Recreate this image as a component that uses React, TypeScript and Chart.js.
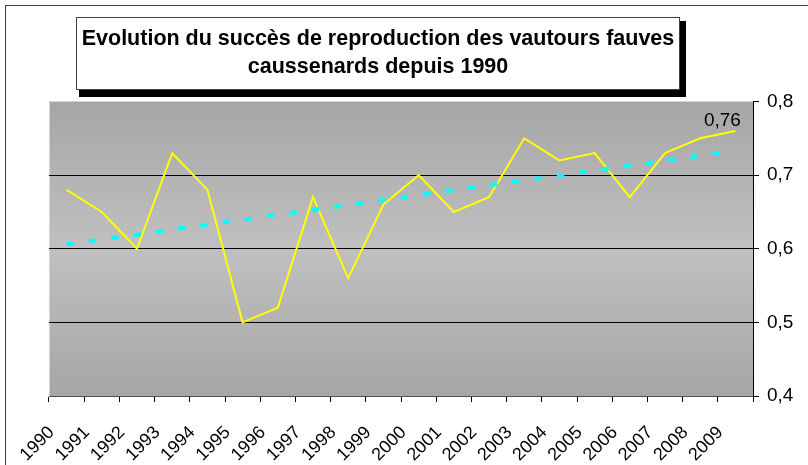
import React, { useEffect, useRef } from 'react';
import { Chart, registerables } from 'chart.js';

Chart.register(...registerables);

const years = ['1990', '1991', '1992', '1993', '1994', '1995', '1996', '1997', '1998', '1999', '2000', '2001', '2002', '2003', '2004', '2005', '2006', '2007', '2008', '2009'];
const successRate = [0.68, 0.65, 0.6, 0.73, 0.68, 0.5, 0.52, 0.67, 0.56, 0.66, 0.7, 0.65, 0.67, 0.75, 0.72, 0.73, 0.67, 0.73, 0.75, 0.76];
const trendStart = 0.606;
const trendEnd = 0.733;
const titleLines = ['Evolution du succès de reproduction des vautours fauves', 'caussenards depuis 1990'];
const yMin = 0.4;
const yMax = 0.8;
const yStep = 0.1;
const lastPointLabel = '0,76';

const FONT = '"Liberation Sans", Arial, sans-serif';

const decorPlugin = {
  id: 'decor',
  beforeDraw(chart: any) {
    const { ctx, chartArea: a, width, height } = chart;
    ctx.save();
    ctx.fillStyle = '#ffffff';
    ctx.fillRect(0, 0, width, height);
    const g = ctx.createLinearGradient(0, a.top, 0, a.bottom);
    g.addColorStop(0, '#a6a6a6');
    g.addColorStop(0.5, '#c0c0c0');
    g.addColorStop(1, '#a6a6a6');
    ctx.fillStyle = g;
    ctx.fillRect(a.left, a.top - 0.5, a.right - a.left, a.bottom - a.top + 0.5);
    ctx.strokeStyle = '#d4d4d4';
    ctx.lineWidth = 1;
    ctx.beginPath();
    ctx.moveTo(a.left + 0.5, a.bottom);
    ctx.lineTo(a.left + 0.5, a.top);
    ctx.lineTo(a.right, a.top);
    ctx.stroke();
    ctx.restore();
  },
  afterDatasetsDraw(chart: any) {
    const { ctx } = chart;
    const meta = chart.getDatasetMeta(1);
    const pt = meta.data[meta.data.length - 1];
    if (!pt) return;
    ctx.save();
    ctx.fillStyle = '#000';
    ctx.font = `19px ${FONT}`;
    ctx.textAlign = 'center';
    ctx.textBaseline = 'alphabetic';
    ctx.fillText(lastPointLabel, pt.x - 13, pt.y - 4.5);
    ctx.restore();
  },
  afterDraw(chart: any) {
    const { ctx } = chart;
    ctx.save();
    // outer frame
    ctx.strokeStyle = '#404040';
    ctx.lineWidth = 1;
    ctx.strokeRect(5.5, 5.5, 1000, 1000);
    // title box shadow
    ctx.fillStyle = '#000';
    ctx.fillRect(79, 21, 607, 76);
    // title box
    ctx.fillStyle = '#fff';
    ctx.fillRect(76, 17, 604, 73);
    ctx.strokeStyle = '#404040';
    ctx.strokeRect(76.5, 17.5, 603, 72);
    ctx.fillStyle = '#000';
    ctx.font = `bold 21.5px ${FONT}`;
    ctx.textAlign = 'center';
    ctx.textBaseline = 'alphabetic';
    ctx.fillText(titleLines[0], 378, 44.5);
    ctx.fillText(titleLines[1], 378, 73);
    ctx.restore();
  },
};

export default function App() {
  const ref = useRef<HTMLCanvasElement | null>(null);

  useEffect(() => {
    if (!ref.current) return;
    const trendData = years.map((_, i) => (i === 0 ? trendStart : i === years.length - 1 ? trendEnd : null));
    const chart = new Chart(ref.current, {
      type: 'line',
      data: {
        labels: years,
        datasets: [
          {
            label: 'Tendance',
            data: trendData,
            spanGaps: true,
            borderColor: '#00ffff',
            borderWidth: 4,
            borderDash: [7.5, 15],
            borderCapStyle: 'butt',
            pointRadius: 0,
            fill: false,
            tension: 0,
          },
          {
            label: 'Succès de reproduction',
            data: successRate,
            borderColor: '#ffff00',
            borderWidth: 2,
            pointRadius: 0,
            fill: false,
            tension: 0,
          },
        ],
      },
      options: {
        animation: false,
        responsive: false,
        maintainAspectRatio: false,
        devicePixelRatio: 1,
        layout: { padding: { left: 49, top: 101.5, right: 0, bottom: 0 } },
        plugins: {
          legend: { display: false },
          title: { display: false },
          tooltip: { enabled: false },
        },
        scales: {
          x: {
            offset: true,
            grid: {
              offset: true,
              drawOnChartArea: false,
              drawTicks: true,
              tickLength: 6,
              tickColor: '#000',
              color: '#000',
            },
            border: { display: true, color: '#505050', width: 1 },
            ticks: {
              autoSkip: false,
              maxRotation: 45,
              minRotation: 45,
              labelOffset: -15,
              padding: 20,
              color: '#000',
              font: { family: FONT, size: 18 },
            },
            afterFit(scale: any) {
              scale.height = 69;
              scale.paddingLeft = 0;
              scale.paddingRight = 0;
            },
          },
          y: {
            position: 'right',
            min: yMin,
            max: yMax,
            grid: {
              color: (ctx: any) => {
                const v = ctx.tick ? ctx.tick.value : 0;
                return v > yMin + 0.01 && v < yMax - 0.01 ? '#000' : 'rgba(0,0,0,0)';
              },
              tickColor: '#000',
              tickLength: 6,
              lineWidth: 1,
            },
            border: { display: true, color: '#000', width: 1 },
            ticks: {
              stepSize: yStep,
              padding: 8,
              color: '#000',
              font: { family: FONT, size: 19 },
              callback: (v: any) => Number(v).toFixed(1).replace('.', ','),
            },
            afterFit(scale: any) {
              scale.width = 55;
              scale.paddingTop = 0;
              scale.paddingBottom = 0;
            },
          },
        },
      },
      plugins: [decorPlugin],
    } as any);
    return () => chart.destroy();
  }, []);

  return (
    <div style={{ position: 'fixed', left: 0, top: 0, width: 808, height: 465, background: '#fff' }}>
      <canvas ref={ref} width={808} height={465} style={{ width: 808, height: 465, display: 'block' }} />
    </div>
  );
}
